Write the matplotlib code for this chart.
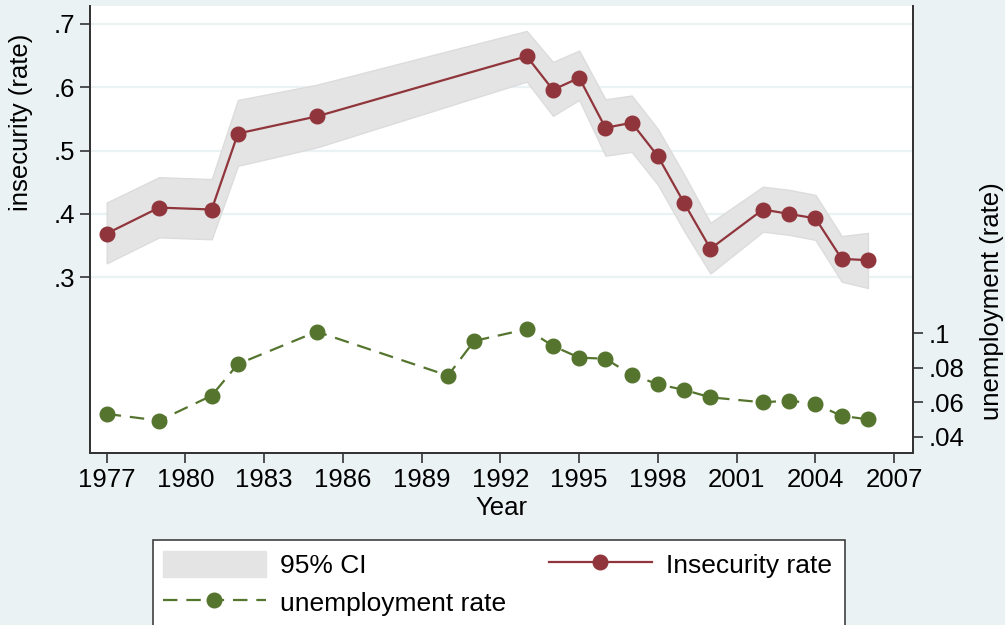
import matplotlib
matplotlib.use("Agg")
import matplotlib.pyplot as plt
from matplotlib.lines import Line2D
from matplotlib.patches import Patch, Rectangle

# ---- data ----
ins_years = [1977, 1979, 1981, 1982, 1985, 1993, 1994, 1995, 1996, 1997, 1998,
             1999, 2000, 2002, 2003, 2004, 2005, 2006]
ins_rate = [0.369, 0.410, 0.407, 0.527, 0.554, 0.649, 0.596, 0.615, 0.536, 0.544,
            0.491, 0.417, 0.345, 0.407, 0.400, 0.393, 0.329, 0.327]
ci_upper = [0.418, 0.458, 0.455, 0.580, 0.604, 0.689, 0.640, 0.658, 0.581, 0.587,
            0.534, 0.462, 0.386, 0.443, 0.438, 0.430, 0.365, 0.370]
ci_lower = [0.322, 0.363, 0.360, 0.476, 0.505, 0.609, 0.555, 0.580, 0.492, 0.498,
            0.446, 0.373, 0.306, 0.372, 0.367, 0.359, 0.293, 0.283]

un_years = [1977, 1979, 1981, 1982, 1985, 1990, 1991, 1993, 1994, 1995, 1996,
            1997, 1998, 1999, 2000, 2002, 2003, 2004, 2005, 2006]
un_rate = [0.0532, 0.0493, 0.0638, 0.0821, 0.1009, 0.0754, 0.0955, 0.1023, 0.0926,
           0.0858, 0.0852, 0.0758, 0.0704, 0.0671, 0.0628, 0.0599, 0.0609, 0.0590,
           0.0520, 0.0501]

x_ticks = [1977, 1980, 1983, 1986, 1989, 1992, 1995, 1998, 2001, 2004, 2007]
left_ticks = [0.3, 0.4, 0.5, 0.6, 0.7]
left_labels = [".3", ".4", ".5", ".6", ".7"]
right_ticks = [0.04, 0.06, 0.08, 0.10]
right_labels = [".04", ".06", ".08", ".1"]

# ---- style ----
BG = "#EAF2F3"
MAROON = "#90353B"
GREEN = "#55752F"
CI_FILL = "#E4E4E4"
AX_COL = "#333333"
FS = 18.5

plt.rcParams["font.family"] = ["Liberation Sans", "DejaVu Sans"]

fig = plt.figure(figsize=(10.05, 6.25), dpi=100, facecolor=BG)
ax = fig.add_axes([0.08955, 0.27568, 0.81891, 0.71472])
ax.set_facecolor("white")

ax.fill_between(ins_years, ci_lower, ci_upper, facecolor=CI_FILL,
                edgecolor="#DCDCDC", linewidth=1.0, zorder=2)
ax.plot(ins_years, ins_rate, color=MAROON, lw=1.6, marker="o", ms=10.5,
        zorder=3)

ax.set_xlim(1976.364, 2007.716)
ax.set_ylim(0.0229, 0.7284)
ax.set_xticks(x_ticks)
ax.set_xticklabels([str(t) for t in x_ticks])
ax.set_yticks(left_ticks)
ax.set_yticklabels(left_labels)
ax.grid(axis="y", color=BG, lw=1.6, zorder=0)
ax.set_axisbelow(True)

ax2 = ax.twinx()
ax2.plot(un_years, un_rate, color=GREEN, lw=1.6, ls=(0, (6.5, 4)), marker="o",
         ms=10.5, zorder=3)
ax2.set_ylim(0.0307, 0.2897)
ax2.set_yticks(right_ticks)
ax2.set_yticklabels(right_labels)

for a in (ax, ax2):
    a.spines["top"].set_visible(False)
    for s in ("left", "right", "bottom"):
        a.spines[s].set_color(AX_COL)
        a.spines[s].set_linewidth(1.3)
    a.tick_params(direction="out", length=7, width=1.2, color=AX_COL,
                  labelsize=FS, pad=4)

ax.set_xlabel("Year", fontsize=FS, labelpad=3)
ax.set_ylabel("insecurity (rate)", fontsize=FS)
ax.yaxis.set_label_coords(-0.0693, 0.740)
ax2.set_ylabel("unemployment (rate)", fontsize=FS)
ax2.yaxis.set_label_coords(1.0814, 0.340)

# ---- legend ----
frame = Rectangle((153 / 1005, -0.02), 692 / 1005, 0.02 + 85 / 625,
                  transform=fig.transFigure, facecolor="white",
                  edgecolor="#404040", lw=1.2, zorder=0)
fig.patches.append(frame)

handles = [
    Patch(facecolor=CI_FILL, edgecolor=CI_FILL),
    Line2D([], [], color=GREEN, lw=1.6, ls=(0, (6.5, 4)), marker="o", ms=10.5),
    Line2D([], [], color=MAROON, lw=1.6, marker="o", ms=10.5),
]
labels = ["95% CI", "unemployment rate", "Insecurity rate"]
leg = fig.legend(handles, labels, ncol=2, loc="upper left",
                 bbox_to_anchor=(163 / 1005, (625 - 551) / 625),
                 frameon=False, fontsize=19, handlelength=3.9,
                 handleheight=1.15, handletextpad=0.55, columnspacing=1.6,
                 labelspacing=0.42, borderpad=0, borderaxespad=0,
                 numpoints=1)

fig.savefig("out.png", dpi=100, facecolor=BG)
